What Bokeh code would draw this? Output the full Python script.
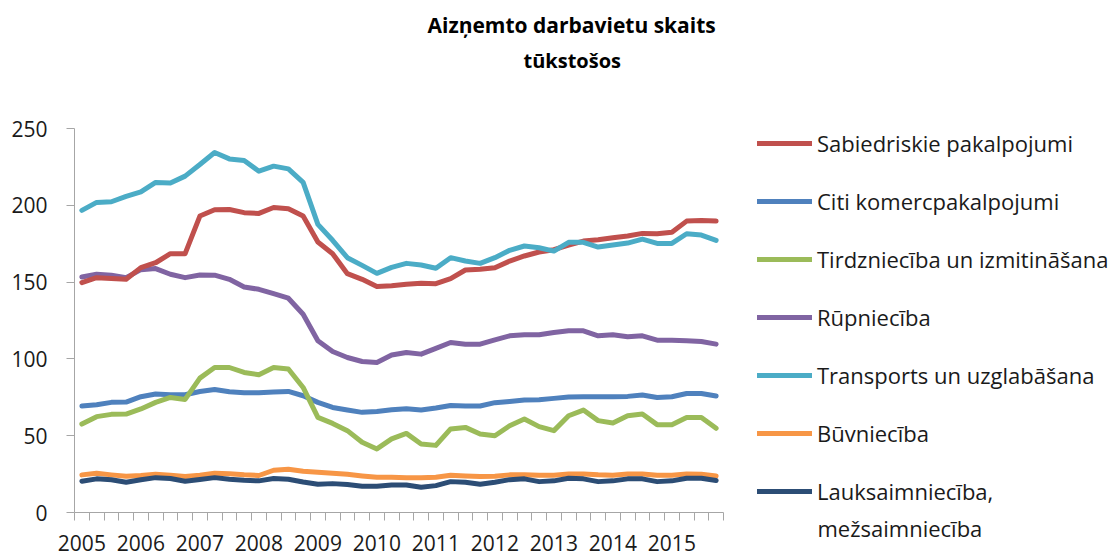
from bokeh.plotting import figure
from bokeh.models import Legend, LegendItem, FixedTicker, Title, Range1d
from bokeh.layouts import row
from bokeh.embed import file_html
from bokeh.resources import INLINE

# ---- data (thousands, quarterly 2005Q1 - 2015Q4) ----
years = [str(y) for y in range(2005, 2016)]
n_quarters = 44

sabiedriskie = [149.7, 152.9, 152.3, 151.8, 159.4, 162.6, 168.5, 168.5, 193.0, 197.1, 197.3, 195.2,
                194.7, 198.6, 197.8, 193.0, 176.1, 168.5, 155.5, 151.8, 147.1, 147.6, 148.6, 149.2,
                149.0, 152.3, 157.9, 158.3, 159.4, 163.7, 167.0, 169.6, 171.1, 174.1, 176.7, 177.6,
                178.9, 180.0, 181.7, 181.5, 182.4, 189.7, 190.1, 189.7]
citi = [69.3, 70.2, 71.7, 71.9, 75.4, 77.1, 76.7, 76.7, 78.8, 80.1, 78.6, 78.0,
        78.0, 78.4, 78.8, 76.0, 71.7, 68.4, 66.7, 65.2, 65.8, 66.9, 67.6, 66.7,
        68.0, 69.7, 69.3, 69.3, 71.5, 72.3, 73.2, 73.4, 74.3, 75.2, 75.4, 75.4,
        75.4, 75.6, 76.5, 74.9, 75.4, 77.5, 77.5, 75.8]
tirdznieciba = [57.6, 62.4, 63.9, 64.1, 67.4, 71.7, 74.9, 73.6, 87.5, 94.4, 94.4, 91.2,
                89.7, 94.4, 93.4, 81.4, 61.9, 58.0, 53.3, 45.7, 41.4, 47.9, 51.5, 44.6,
                43.7, 54.4, 55.4, 51.1, 50.0, 56.5, 60.9, 55.9, 53.3, 63.0, 66.7, 59.8,
                58.3, 63.0, 64.1, 57.2, 57.2, 61.9, 61.9, 54.8]
rupnieciba = [153.3, 155.1, 154.5, 152.9, 158.1, 158.8, 155.1, 152.9, 154.6, 154.5, 151.8, 146.8,
              145.3, 142.5, 139.5, 129.1, 111.8, 104.8, 100.9, 98.3, 97.7, 102.5, 104.2, 103.1,
              106.8, 110.7, 109.6, 109.6, 112.4, 115.0, 115.7, 115.7, 117.2, 118.3, 118.3, 115.0,
              115.7, 114.4, 115.0, 112.2, 112.2, 111.8, 111.3, 109.6]
transports = [196.7, 201.9, 202.3, 205.8, 208.8, 214.9, 214.5, 219.0, 226.6, 234.4, 230.2, 229.2,
              222.2, 225.5, 223.7, 214.9, 187.6, 177.2, 165.9, 160.9, 155.7, 159.6, 162.2, 161.1,
              159.0, 165.9, 163.7, 162.2, 165.9, 170.7, 173.5, 172.4, 170.2, 175.9, 175.9, 172.8,
              174.1, 175.4, 178.0, 175.2, 175.2, 181.5, 180.6, 177.2]
buvnieciba = [24.5, 25.6, 24.5, 23.6, 24.1, 24.9, 24.3, 23.4, 24.3, 25.6, 25.2, 24.5,
              24.1, 27.5, 28.2, 26.9, 26.2, 25.6, 24.9, 23.8, 22.9, 23.0, 22.7, 22.7,
              23.0, 24.3, 23.8, 23.4, 23.6, 24.5, 24.5, 24.3, 24.3, 25.1, 25.1, 24.5,
              24.3, 25.1, 25.1, 24.3, 24.3, 25.1, 24.9, 23.8]
lauksaimnieciba = [20.4, 21.9, 21.3, 19.7, 21.3, 22.7, 22.1, 20.4, 21.5, 22.7, 21.7, 21.0,
                   20.6, 22.1, 21.7, 19.9, 18.4, 18.8, 18.2, 17.1, 17.1, 17.9, 17.9, 16.4,
                   17.5, 20.1, 19.7, 18.4, 19.7, 21.4, 21.9, 20.1, 20.6, 22.3, 21.9, 20.1,
                   20.6, 21.9, 21.9, 20.1, 20.6, 22.3, 22.3, 20.8]

series_names = ["Sabiedriskie pakalpojumi", "Citi komercpakalpojumi", "Tirdzniecība un izmitināšana",
                "Rūpniecība", "Transports un uzglabāšana", "Būvniecība", "Lauksaimniecība,"]
last_label_line2 = "mežsaimniecība"
series_values = [sabiedriskie, citi, tirdznieciba, rupnieciba, transports, buvnieciba, lauksaimnieciba]
colors = ["#C0504D", "#4F81BD", "#9BBB59", "#8064A2", "#4BACC6", "#F79646", "#2C4D75"]
draw_order = [3, 1, 2, 5, 6, 0, 4]

title_text = "Aizņemto darbavietu skaits"
subtitle_text = "tūkstošos"

FONT = "Open Sans"
TXT = "#1a1a1a"
AX = "#a6a6a6"

xs = [i + 0.5 for i in range(n_quarters)]

# ---------------- main chart ----------------
p = figure(width=740, height=558, output_backend="svg", toolbar_location=None, title=None,
           x_range=Range1d(0, n_quarters), y_range=Range1d(0, 250),
           min_border_left=74, min_border_right=17, min_border_top=127, min_border_bottom=46)
p.outline_line_color = None
p.grid.grid_line_color = None
p.border_fill_color = "white"

for k in draw_order:
    p.line(xs, series_values[k], line_color=colors[k], line_width=5, line_join="round",
           line_cap="round")

xt = FixedTicker(ticks=[4 * j + 0.5 for j in range(len(years))],
                 minor_ticks=list(range(n_quarters + 1)))
p.xaxis.ticker = xt
p.xaxis.major_label_overrides = {4 * j + 0.5: years[j] for j in range(len(years))}
p.xaxis.major_tick_out = 0
p.xaxis.major_tick_in = 0
p.xaxis.minor_tick_out = 8
p.xaxis.minor_tick_in = 0
p.xaxis.minor_tick_line_color = AX
p.xaxis.axis_line_color = AX
p.xaxis.major_label_standoff = 14
p.xaxis.major_label_text_font = FONT
p.xaxis.major_label_text_font_size = "21px"
p.xaxis.major_label_text_color = TXT

p.yaxis.ticker = FixedTicker(ticks=[0, 50, 100, 150, 200, 250], minor_ticks=[])
p.yaxis.major_tick_out = 8
p.yaxis.major_tick_in = 0
p.yaxis.major_tick_line_color = AX
p.yaxis.axis_line_color = AX
p.yaxis.minor_tick_line_color = None
p.yaxis.major_label_standoff = 19
p.yaxis.major_label_text_font = FONT
p.yaxis.major_label_text_font_size = "21px"
p.yaxis.major_label_text_color = TXT

# titles: spacer nearest the frame, then subtitle, then main title
p.add_layout(Title(text=" ", text_font_size="10px", standoff=42), "above")
p.add_layout(Title(text=subtitle_text, align="left", offset=449, standoff=0,
                   text_font=FONT, text_font_style="bold", text_font_size="20px",
                   text_color="#000000"), "above")
p.add_layout(Title(text=title_text, align="left", offset=353, standoff=12,
                   text_font=FONT, text_font_style="bold", text_font_size="21px",
                   text_color="#000000"), "above")

# ---------------- legend panel ----------------
q = figure(width=370, height=558, output_backend="svg", toolbar_location=None, title=None,
           x_axis_type=None, y_axis_type=None, x_range=Range1d(1000, 1001), y_range=Range1d(-2, -1),
           min_border_left=17, min_border_right=0, min_border_top=128, min_border_bottom=20)
q.outline_line_color = None
q.grid.grid_line_color = None
q.border_fill_color = "white"

items = []
for k in range(7):
    proxy = q.line(xs, series_values[k], line_color=colors[k], line_width=5, line_cap="round")
    items.append(LegendItem(label=series_names[k], renderers=[proxy]))

q.add_layout(Legend(items=items, location="top_left", orientation="vertical",
                    border_line_color=None, background_fill_alpha=0, padding=0, margin=0,
                    spacing=28, glyph_width=55, glyph_height=30, label_height=30,
                    label_standoff=5, label_text_font=FONT, label_text_font_size="22px",
                    label_text_color=TXT), "center")

# second line of the last legend entry, just below the legend panel's frame
q.add_layout(Title(text=last_label_line2, align="left", offset=60, standoff=0,
                   vertical_align="top", text_font=FONT, text_font_style="normal",
                   text_font_size="22px", text_color=TXT), "below")

layout = row(p, q, spacing=0)
open("out.html", "w").write(file_html(layout, INLINE))
